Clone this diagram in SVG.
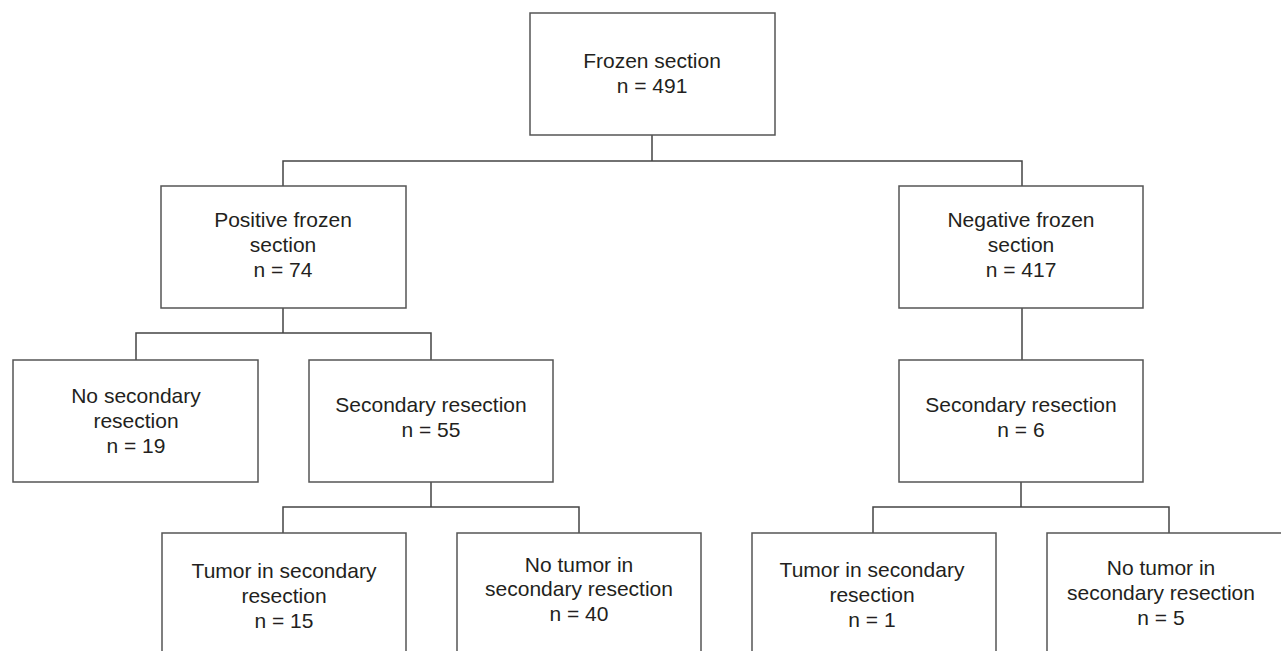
<svg xmlns="http://www.w3.org/2000/svg" width="1281" height="651" viewBox="0 0 1281 651">
<style>
.box{fill:#fff;stroke:#555;stroke-width:1.5}
.c{fill:none;stroke:#444;stroke-width:1.5}
text{font-family:"Liberation Sans",Arial,sans-serif;font-size:21px;fill:#231f20;text-anchor:middle}
</style>
<rect width="1281" height="651" fill="#fff"/>
<g id="connectors">
<path class="c" d="M652 135V161M283 186V161H1022V186"/>
<path class="c" d="M283 308V333M136 360V333H431V360"/>
<path class="c" d="M1022 308V360"/>
<path class="c" d="M431 482V507M283 533V507H579V533"/>
<path class="c" d="M1021 482V507M873 533V507H1169V533"/>
</g>
<g id="frozen"><rect class="box" x="530" y="13" width="245" height="122"/><text x="652" y="68">Frozen section</text><text x="652" y="93">n = 491</text></g>
<g id="positive"><rect class="box" x="161" y="186" width="245" height="122"/><text x="283" y="227">Positive frozen</text><text x="283" y="252">section</text><text x="283" y="277">n = 74</text></g>
<g id="negative"><rect class="box" x="899" y="186" width="244" height="122"/><text x="1021" y="227">Negative frozen</text><text x="1021" y="252">section</text><text x="1021" y="277">n = 417</text></g>
<g id="no-secondary"><rect class="box" x="13" y="360" width="245" height="122"/><text x="136" y="403">No secondary</text><text x="136" y="428">resection</text><text x="136" y="453">n = 19</text></g>
<g id="secondary-left"><rect class="box" x="309" y="360" width="244" height="122"/><text x="431" y="412">Secondary resection</text><text x="431" y="437">n = 55</text></g>
<g id="secondary-right"><rect class="box" x="899" y="360" width="244" height="122"/><text x="1021" y="412">Secondary resection</text><text x="1021" y="437">n = 6</text></g>
<g id="tumor-left"><rect class="box" x="162" y="533" width="244" height="130"/><text x="284" y="578">Tumor in secondary</text><text x="284" y="603">resection</text><text x="284" y="628">n = 15</text></g>
<g id="notumor-left"><rect class="box" x="457" y="533" width="244" height="130"/><text x="579" y="572">No tumor in</text><text x="579" y="596">secondary resection</text><text x="579" y="621">n = 40</text></g>
<g id="tumor-right"><rect class="box" x="752" y="533" width="244" height="130"/><text x="872" y="577">Tumor in secondary</text><text x="872" y="602">resection</text><text x="872" y="627">n = 1</text></g>
<g id="notumor-right"><rect class="box" x="1047" y="533" width="250" height="130"/><text x="1161" y="575">No tumor in</text><text x="1161" y="600">secondary resection</text><text x="1161" y="625">n = 5</text></g>
</svg>
